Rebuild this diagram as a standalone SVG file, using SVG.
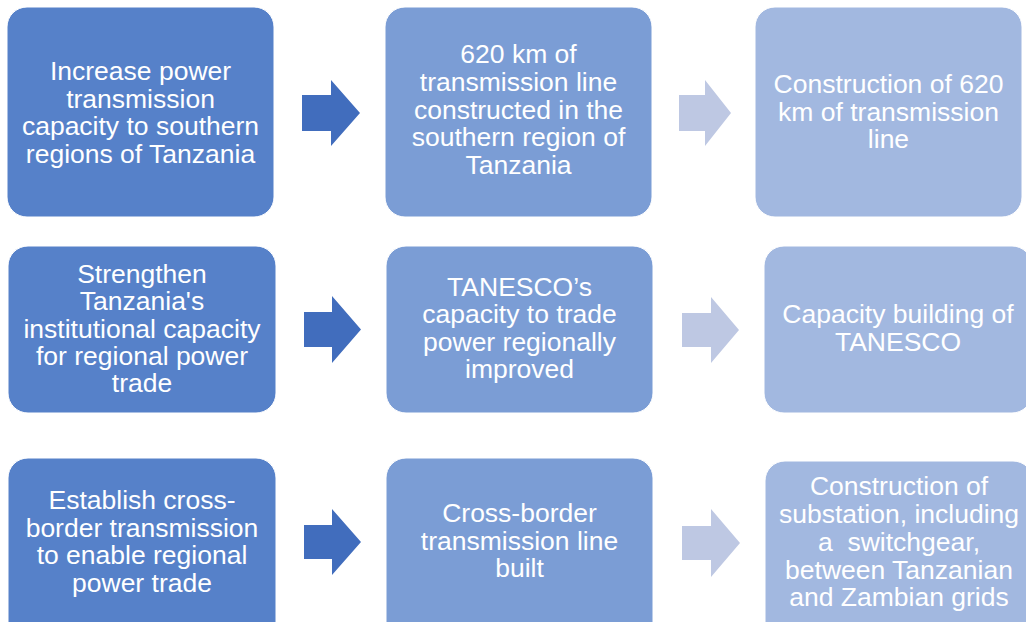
<svg xmlns="http://www.w3.org/2000/svg" width="1026" height="622" viewBox="0 0 1026 622">
<style>
.box{stroke:#ffffff;stroke-width:1}
.c1{fill:#5681C9}
.c2{fill:#7B9DD5}
.c3{fill:#A2B8E0}
.ad{fill:#416DBD}
.al{fill:#BEC8E3}
text{font-family:"Liberation Sans",Arial,sans-serif;font-size:26.5px;fill:#ffffff;text-anchor:middle}
</style>
<rect width="1026" height="622" fill="#ffffff"/>
<g id="connectors">
<polygon class="ad" points="302,95 331,95 331,80 360,113 331,146 331,131 302,131"/>
<polygon class="al" points="679,95 705,95 705,80 731,113 705,146 705,131 679,131"/>
<polygon class="ad" points="304,312 332,312 332,296 361,329.5 332,363 332,347 304,347"/>
<polygon class="al" points="682,313 711,313 711,297 739,330 711,363 711,347 682,347"/>
<polygon class="ad" points="304,525 332,525 332,509 361,542 332,575 332,559 304,559"/>
<polygon class="al" points="682,526 711,526 711,509 740,543 711,577 711,560 682,560"/>
</g>
<g id="n1a">
<rect class="box c1" x="7" y="7" width="267" height="210" rx="20"/>
<text x="140.5" y="80">Increase power</text>
<text x="140.5" y="107.5">transmission</text>
<text x="140.5" y="135">capacity to southern</text>
<text x="140.5" y="162.5">regions of Tanzania</text>
</g>
<g id="n1b">
<rect class="box c2" x="385" y="7" width="267" height="210" rx="20"/>
<text x="518.5" y="63">620 km of</text>
<text x="518.5" y="91">transmission line</text>
<text x="518.5" y="118.5">constructed in the</text>
<text x="518.5" y="146">southern region of</text>
<text x="518.5" y="173.5">Tanzania</text>
</g>
<g id="n1c">
<rect class="box c3" x="755" y="7" width="267" height="210" rx="20"/>
<text x="888.5" y="93">Construction of 620</text>
<text x="888.5" y="120.5">km of transmission</text>
<text x="888.5" y="148">line</text>
</g>
<g id="n2a">
<rect class="box c1" x="8" y="246" width="268" height="167" rx="20"/>
<text x="142" y="283">Strengthen</text>
<text x="142" y="310">Tanzania's</text>
<text x="142" y="337.5">institutional capacity</text>
<text x="142" y="365">for regional power</text>
<text x="142" y="392">trade</text>
</g>
<g id="n2b">
<rect class="box c2" x="386" y="246" width="267" height="167" rx="20"/>
<text x="519.5" y="296">TANESCO’s</text>
<text x="519.5" y="323">capacity to trade</text>
<text x="519.5" y="350.5">power regionally</text>
<text x="519.5" y="378">improved</text>
</g>
<g id="n2c">
<rect class="box c3" x="764" y="246" width="268" height="167" rx="20"/>
<text x="898" y="323">Capacity building of</text>
<text x="898" y="350.5">TANESCO</text>
</g>
<g id="n3a">
<rect class="box c1" x="8" y="458" width="268" height="190" rx="20"/>
<text x="142" y="508.5">Establish cross-</text>
<text x="142" y="536.5">border transmission</text>
<text x="142" y="563.5">to enable regional</text>
<text x="142" y="591.5">power trade</text>
</g>
<g id="n3b">
<rect class="box c2" x="386" y="458" width="267" height="190" rx="20"/>
<text x="519.5" y="522">Cross-border</text>
<text x="519.5" y="550">transmission line</text>
<text x="519.5" y="577">built</text>
</g>
<g id="n3c">
<rect class="box c3" x="765" y="461" width="268" height="190" rx="20"/>
<text x="899" y="495" xml:space="preserve">Construction of</text>
<text x="899" y="523">substation, including</text>
<text x="899" y="551" xml:space="preserve">a  switchgear,</text>
<text x="899" y="578.5">between Tanzanian</text>
<text x="899" y="606">and Zambian grids</text>
</g>
</svg>
